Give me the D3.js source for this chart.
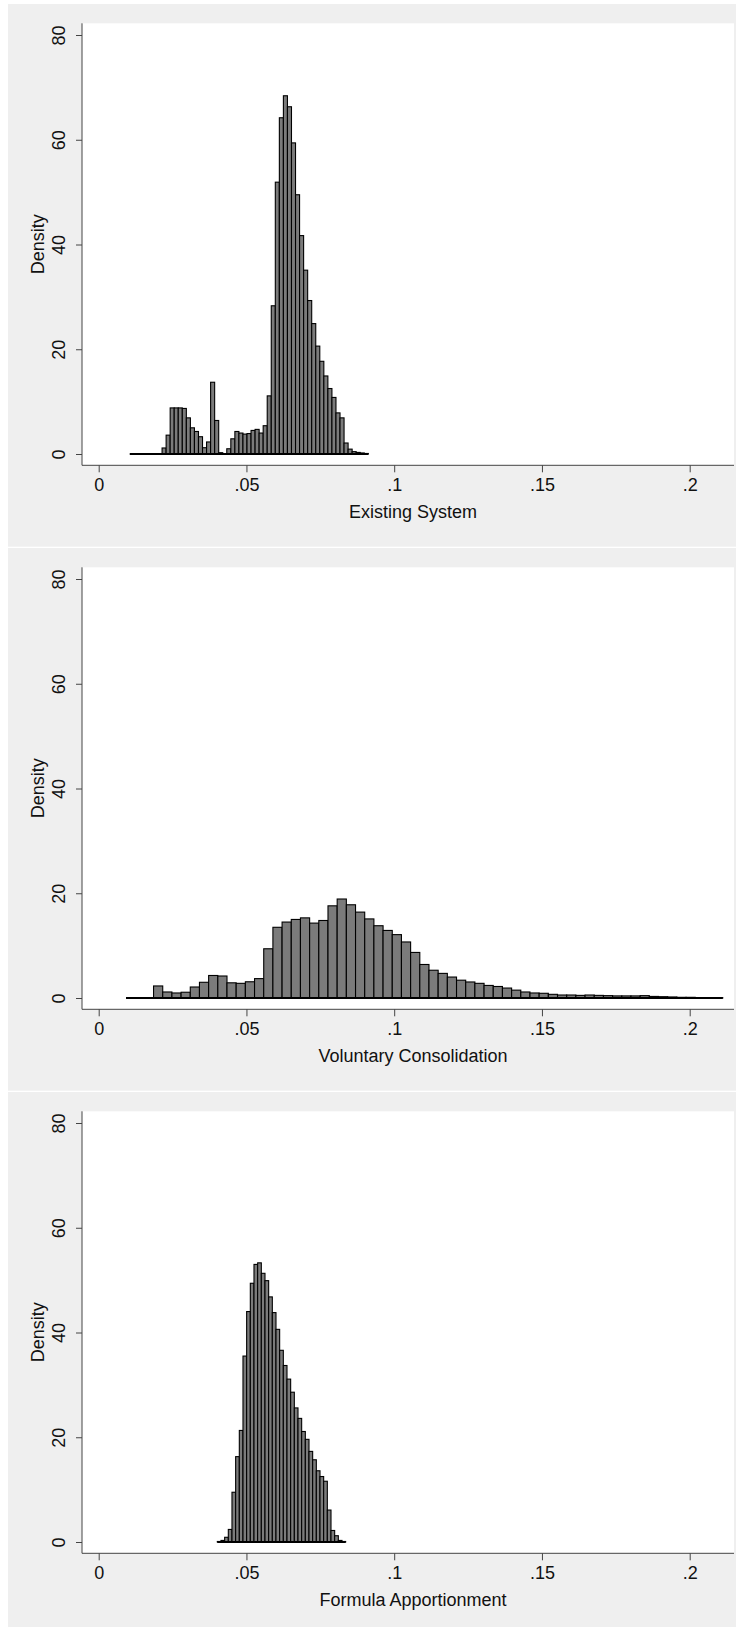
<!DOCTYPE html>
<html lang="en">
<head>
<meta charset="UTF-8">
<title>Density histograms</title>
<script src="https://cdn.jsdelivr.net/npm/d3@7"></script>
<style>
    body { margin: 0; background: #ffffff; }
    svg { display: block; }
    text { font-family: "Liberation Sans", Arial, sans-serif; fill: #111; }
</style>
</head>
<body>
<svg id="chart" width="743" height="1627"></svg>
<script>
    // histogram densities, one value per bin
    const existingStart = 0.0105, existingWidth = 0.0013685;
    const existingDensity = [
        0, 0, 0, 0, 0, 0, 0, 0,
        1.15, 3.6, 8.8, 8.8, 8.8, 8.7, 6.9, 5.0, 4.3, 3.3, 1.2, 2.3,
        13.7, 6.4, 0.25, 0, 1.0, 2.9, 4.3, 4.0, 3.8, 3.9,
        4.5, 4.7, 4.0, 5.4, 11.1, 28.3, 51.9, 64.2, 68.4, 66.3,
        59.4, 49.5, 41.7, 35.1, 29.3, 24.9, 20.6, 17.7, 14.9, 12.5,
        10.8, 7.85, 6.9, 2.1, 0.93, 0.45, 0.3, 0.2, 0.1
    ];

    const voluntaryStart = 0.00924, voluntaryWidth = 0.003107;
    const voluntaryDensity = [
        0, 0, 0,
        2.3, 1.15, 0.96, 1.1, 2.1, 3.0, 4.3, 4.2, 2.9, 2.8,
        3.1, 3.7, 9.4, 13.5, 14.5, 15.0, 15.3, 14.3, 14.8, 17.6,
        18.9, 17.8, 16.4, 15.1, 13.8, 12.9, 12.1, 10.7, 8.7, 6.4, 5.3,
        4.7, 4.0, 3.4, 3.06, 2.8, 2.4, 2.2, 1.9, 1.5, 1.15,
        0.96, 0.9, 0.7, 0.57, 0.57, 0.5, 0.57, 0.5, 0.45, 0.4,
        0.4, 0.4, 0.45, 0.3, 0.25, 0.2, 0.13, 0.13, 0.06, 0.06, 0.06
    ];

    const formulaStart = 0.04014, formulaWidth = 0.001241;
    const formulaDensity = [
        0.1, 0.3, 0.9, 2.4, 9.5, 16.3, 21.3, 35.5, 44.0, 49.4,
        53.0, 53.3, 51.3, 49.9, 46.8, 43.8, 40.6, 36.6, 33.7, 31.1,
        28.6, 25.6, 23.6, 21.1, 19.6, 17.3, 15.7, 13.6, 12.5, 11.6,
        6.1, 2.2, 1.2, 0.3, 0.1
    ];

    const xTicks = [0, 0.05, 0.1, 0.15, 0.2];
    const yTicks = [0, 20, 40, 60, 80];
    const yTitle = "Density";

    const panels = [
        { title: "Existing System", start: existingStart, width: existingWidth, values: existingDensity },
        { title: "Voluntary Consolidation", start: voluntaryStart, width: voluntaryWidth, values: voluntaryDensity },
        { title: "Formula Apportionment", start: formulaStart, width: formulaWidth, values: formulaDensity }
    ];

    const svg = d3.select("#chart");
    const panelStep = 544;
    const plot = { left: 82, right: 734, top: 23.3, bottom: 465.3 };
    const fontSize = "18px";

    const x = d3.scaleLinear().domain([0, 0.2]).range([98.7, 689.7]);
    const y = d3.scaleLinear().domain([0, 80]).range([454, 35]);

    const fmtX = d => d === 0 ? "0" : d3.format(".2~f")(d).replace(/^0/, "");

    panels.forEach((p, k) => {
        const g = svg.append("g").attr("transform", `translate(0,${k * panelStep})`);

        g.append("rect")
            .attr("x", 8).attr("y", 4)
            .attr("width", 728).attr("height", 542.7)
            .attr("fill", "#efefef");

        g.append("rect")
            .attr("x", plot.left).attr("y", plot.top)
            .attr("width", plot.right - plot.left).attr("height", plot.bottom - plot.top)
            .attr("fill", "#ffffff");

        // bars
        const bw = x(p.width) - x(0);
        g.append("g").selectAll("rect")
            .data(p.values.map((v, i) => ({ v, i })).filter(d => d.v > 0))
            .enter().append("rect")
            .attr("x", d => x(p.start + d.i * p.width))
            .attr("y", d => y(d.v))
            .attr("width", bw)
            .attr("height", d => y(0) - y(d.v))
            .attr("fill", "#7b7b7b")
            .attr("stroke", "#000")
            .attr("stroke-width", 1.1);

        // zero line under the whole histogram range
        g.append("line")
            .attr("x1", x(p.start))
            .attr("x2", x(p.start + p.values.length * p.width))
            .attr("y1", y(0)).attr("y2", y(0))
            .attr("stroke", "#000")
            .attr("stroke-width", 2);

        // axis lines
        g.append("line")
            .attr("x1", plot.left).attr("x2", plot.left)
            .attr("y1", plot.top).attr("y2", plot.bottom)
            .attr("stroke", "#444");
        g.append("line")
            .attr("x1", plot.left).attr("x2", plot.right)
            .attr("y1", plot.bottom).attr("y2", plot.bottom)
            .attr("stroke", "#444");

        const yAxis = g.append("g")
            .attr("transform", `translate(${plot.left},0)`)
            .call(d3.axisLeft(y).tickValues(yTicks).tickSize(6).tickFormat(d3.format("d")));
        yAxis.select(".domain").remove();
        yAxis.selectAll("line").attr("stroke", "#444");
        yAxis.selectAll("text")
            .attr("x", null).attr("dy", null)
            .attr("transform", "translate(-17.5,0) rotate(-90)")
            .attr("text-anchor", "middle")
            .style("font-size", fontSize)
            .style("font-family", "'Liberation Sans', Arial, sans-serif")
            .attr("fill", "#111");

        const xAxis = g.append("g")
            .attr("transform", `translate(0,${plot.bottom})`)
            .call(d3.axisBottom(x).tickValues(xTicks).tickSize(7).tickFormat(fmtX));
        xAxis.select(".domain").remove();
        xAxis.selectAll("line").attr("stroke", "#444");
        xAxis.selectAll("text")
            .attr("y", 25.5).attr("dy", null)
            .style("font-size", fontSize)
            .style("font-family", "'Liberation Sans', Arial, sans-serif")
            .attr("fill", "#111");

        g.append("text")
            .attr("transform", `translate(44,${(plot.top + plot.bottom) / 2}) rotate(-90)`)
            .attr("text-anchor", "middle")
            .style("font-size", fontSize)
            .text(yTitle);

        g.append("text")
            .attr("x", 413)
            .attr("y", 518)
            .attr("text-anchor", "middle")
            .style("font-size", fontSize)
            .text(p.title);
    });
</script>
</body>
</html>
